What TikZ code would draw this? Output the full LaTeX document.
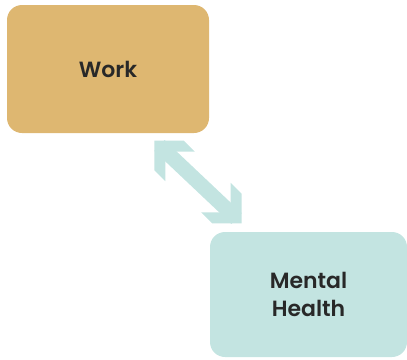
\documentclass[tikz,border=0pt]{standalone}
\usepackage{fontspec}
\setmainfont{Poppins}
\newfontfamily\lblfont{Poppins SemiBold}
\definecolor{workc}{RGB}{222,183,113}
\definecolor{mhc}{RGB}{195,228,225}
\definecolor{txtc}{RGB}{40,40,40}
\tikzset{
  boxnode/.style={draw=none, rounded corners=15pt, inner sep=0pt, align=center,
    text=txtc, font=\lblfont\fontsize{22}{28}\selectfont},
  shaftline/.style={draw=mhc, line width=15pt, shorten <=7pt, shorten >=7pt},
  headfill/.style={fill=mhc, draw=none}
}
\begin{document}
\begin{tikzpicture}[x=1pt,y=-1pt]
\useasboundingbox (0,0) rectangle (407,359);
\node[boxnode, fill=workc, minimum width=202pt, minimum height=128pt] (work) at (108,69) {Work};
\node[boxnode, fill=mhc, minimum width=197pt, minimum height=125pt] (mh) at (308.5,294.5) {Mental\\Health};
\coordinate (t1) at (154.3,140.7);
\coordinate (t2) at (241.7,223.3);
\draw[shaftline] (t1) -- (t2);
\fill[headfill] (t1) -- ++(29.5,0) -- ++(11,11) -- ++(-29.5,0) -- ++(0,29.5) -- ++(-11,-11) -- cycle;
\fill[headfill] (t2) -- ++(-29.5,0) -- ++(-11,-11) -- ++(29.5,0) -- ++(0,-29.5) -- ++(11,11) -- cycle;
\end{tikzpicture}
\end{document}
